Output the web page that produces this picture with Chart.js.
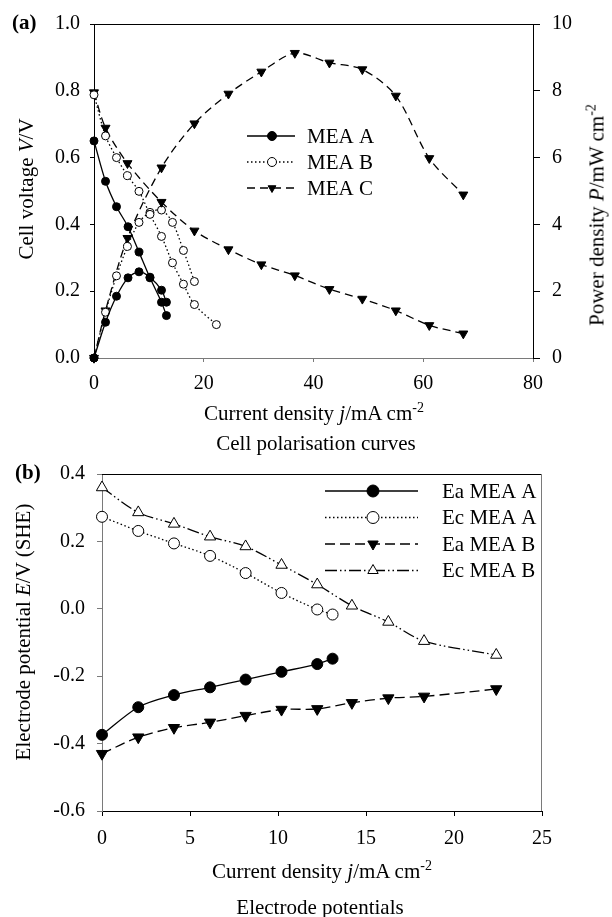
<!DOCTYPE html>
<html>
<head>
<meta charset="utf-8">
<script src="https://cdn.jsdelivr.net/npm/chart.js@4.4.0/dist/chart.umd.min.js"></script>
<style>
body { margin: 0; background: #fff; }
#page { position: relative; width: 612px; height: 917px; overflow: hidden; font-family: "Liberation Serif", "Times New Roman", serif; color: #000; }
canvas { position: absolute; left: 0; }
.lbl { position: absolute; font-size: 21px; line-height: 1; white-space: nowrap; }
.c { transform: translate(-50%, -50%); }
.rot { transform: translate(-50%, -50%) rotate(-90deg); }
sup { font-size: 14px; vertical-align: 8px; line-height: 0; }
</style>
</head>
<body>
<div id="page">
    <canvas id="chartA" width="612" height="450" style="top:0"></canvas>
    <canvas id="chartB" width="612" height="467" style="top:450px"></canvas>

    <div class="lbl" style="left:12px; top:12px; font-weight:bold;">(a)</div>
    <div class="lbl rot" style="left:26px; top:189px;">Cell voltage <i>V</i>/V</div>
    <div class="lbl rot" style="left:597px; top:215px;">Power density <i>P</i>/mW cm<sup>-2</sup></div>
    <div class="lbl c" style="left:314px; top:413px;">Current density <i>j</i>/mA cm<sup>-2</sup></div>
    <div class="lbl c" style="left:316px; top:443px;">Cell polarisation curves</div>

    <div class="lbl" style="left:15px; top:462px; font-weight:bold;">(b)</div>
    <div class="lbl rot" style="left:23px; top:632px;">Electrode potential <i>E</i>/V (SHE)</div>
    <div class="lbl c" style="left:322px; top:871px;">Current density <i>j</i>/mA cm<sup>-2</sup></div>
    <div class="lbl c" style="left:320px; top:907px;">Electrode potentials</div>
</div>

<script>
// (a) cell polarisation - current density in mA cm-2, voltage in V, power in mW cm-2
const jA = [0, 2.1, 4.1, 6.2, 8.2, 10.2, 12.3, 13.2];
const voltA = [0.65, 0.529, 0.453, 0.393, 0.317, 0.24, 0.167, 0.127];
const powerA = [0, 1.07, 1.85, 2.40, 2.58, 2.42, 2.03, 1.67];

const jB = [0, 2.1, 4.1, 6.1, 8.2, 10.2, 12.3, 14.3, 16.3, 18.3, 22.3];
const voltB = [0.788, 0.665, 0.60, 0.546, 0.499, 0.43, 0.364, 0.285, 0.221, 0.16, 0.10];
const jBPower = [0, 2.1, 4.1, 6.1, 8.2, 10.2, 12.3, 14.3, 16.3, 18.3];
const powerB = [0, 1.37, 2.46, 3.34, 4.06, 4.36, 4.43, 4.06, 3.22, 2.29];

const jC = [0, 2.1, 6.1, 12.3, 18.3, 24.5, 30.5, 36.6, 42.9, 48.9, 55.0, 61.1, 67.3];
const voltC = [0.795, 0.689, 0.583, 0.467, 0.381, 0.325, 0.28, 0.247, 0.206, 0.177, 0.142, 0.098, 0.073];
const powerC = [0, 1.42, 3.59, 5.7, 7.02, 7.91, 8.57, 9.13, 8.84, 8.64, 7.85, 5.98, 4.89];

// (b) electrode potentials in V vs SHE
const jElecA = [0, 2.06, 4.09, 6.14, 8.16, 10.2, 12.23, 13.1];
const eaMeaA = [-0.374, -0.292, -0.256, -0.233, -0.210, -0.187, -0.164, -0.148];
const ecMeaA = [0.273, 0.231, 0.194, 0.157, 0.106, 0.047, -0.002, -0.017];
const jElecB = [0, 2.06, 4.09, 6.14, 8.16, 10.2, 12.23, 14.2, 16.27, 18.3, 22.4];
const eaMeaB = [-0.430, -0.381, -0.353, -0.337, -0.317, -0.299, -0.297, -0.279, -0.265, -0.260, -0.238];
const ecMeaB = [0.36, 0.286, 0.252, 0.214, 0.185, 0.130, 0.072, 0.009, -0.039, -0.096, -0.137];

const xTicksA = [0, 20, 40, 60, 80];
const xTicksB = [0, 5, 10, 15, 20, 25];

const FONT = '"Liberation Serif", "Times New Roman", serif';
const GREY = '#7a7a7a';

function toPoints(xs, ys) {
    return ys.map((y, i) => ({ x: xs[i], y: y }));
}

// marker drawing shared by the legends
function drawMarker(ctx, style, x, y, r, filled, rotation) {
    ctx.save();
    ctx.setLineDash([]);
    ctx.lineWidth = 1;
    ctx.strokeStyle = '#000';
    ctx.fillStyle = filled ? '#000' : '#fff';
    ctx.beginPath();
    if (style === 'circle') {
        ctx.arc(x, y, r, 0, Math.PI * 2);
    } else {
        let rad = (rotation || 0) * Math.PI / 180;
        ctx.moveTo(x + Math.sin(rad) * r, y - Math.cos(rad) * r);
        rad += Math.PI * 2 / 3;
        ctx.lineTo(x + Math.sin(rad) * r, y - Math.cos(rad) * r);
        rad += Math.PI * 2 / 3;
        ctx.lineTo(x + Math.sin(rad) * r, y - Math.cos(rad) * r);
        ctx.closePath();
    }
    ctx.fill();
    ctx.stroke();
    ctx.restore();
}

const framePlugin = {
    id: 'frame',
    afterDraw(chart, args, opts) {
        const a = chart.chartArea;
        const ctx = chart.ctx;
        ctx.save();
        ctx.lineWidth = 1;
        ctx.strokeStyle = '#000';
        ctx.beginPath();
        ctx.moveTo(a.left, a.top + 0.5);
        ctx.lineTo(a.right, a.top + 0.5);
        ctx.stroke();
        if (opts.right) {
            ctx.strokeStyle = opts.right;
            ctx.beginPath();
            ctx.moveTo(a.right - 0.5, a.top);
            ctx.lineTo(a.right - 0.5, a.bottom);
            ctx.stroke();
        }
        ctx.restore();
    }
};

const lineLegendPlugin = {
    id: 'lineLegend',
    afterDraw(chart, args, opts) {
        if (!opts.rows) return;
        const ctx = chart.ctx;
        opts.rows.forEach((row, i) => {
            const ds = chart.data.datasets[row.dataset];
            const y = opts.top + i * opts.gap;
            ctx.save();
            ctx.strokeStyle = '#000';
            ctx.lineWidth = ds.borderWidth;
            ctx.setLineDash(ds.borderDash || []);
            ctx.beginPath();
            ctx.moveTo(opts.x1, y);
            ctx.lineTo(opts.x2, y);
            ctx.stroke();
            ctx.restore();
            drawMarker(ctx, ds.pointStyle, opts.mx, y, opts.r,
                ds.pointBackgroundColor === '#000', ds.pointRotation);
            ctx.save();
            ctx.fillStyle = '#000';
            ctx.font = opts.font;
            ctx.textBaseline = 'middle';
            ctx.fillText(row.label, opts.tx, y + 1);
            ctx.restore();
        });
    }
};

function series(points, axis, style, filled, dash, radius, rotation) {
    return {
        data: points,
        yAxisID: axis,
        showLine: true,
        clip: false,
        borderColor: '#000',
        borderWidth: 1.3,
        borderDash: dash,
        tension: 0.3,
        pointStyle: style,
        pointRadius: radius,
        pointRotation: rotation || 0,
        pointBorderWidth: 1,
        pointBorderColor: '#000',
        pointBackgroundColor: filled ? '#000' : '#fff'
    };
}

const DOT = [1.5, 2.5];
const DASH_A = [8, 5];
const DASH_B = [10, 5];
const DASH_DOT_DOT = [12, 3, 1.5, 3, 1.5, 3];

function tickFont(size) {
    return { family: FONT, size: size };
}

function initializeCharts() {
    new Chart(document.getElementById('chartA'), {
        type: 'scatter',
        data: {
            datasets: [
                series(toPoints(jA, voltA), 'y', 'circle', true, [], 4),
                series(toPoints(jB, voltB), 'y', 'circle', false, DOT, 4),
                series(toPoints(jC, voltC), 'y', 'triangle', true, DASH_A, 5.2, 180),
                series(toPoints(jA, powerA), 'y2', 'circle', true, [], 4),
                series(toPoints(jBPower, powerB), 'y2', 'circle', false, DOT, 4),
                series(toPoints(jC, powerC), 'y2', 'triangle', true, DASH_A, 5.2, 180)
            ]
        },
        options: {
            responsive: false,
            animation: false,
            layout: { padding: { top: 20, left: 0, right: 0, bottom: 0 } },
            plugins: {
                legend: { display: false },
                tooltip: { enabled: false },
                frame: {},
                lineLegend: {
                    rows: [
                        { dataset: 0, label: 'MEA A' },
                        { dataset: 1, label: 'MEA B' },
                        { dataset: 2, label: 'MEA C' }
                    ],
                    top: 136, gap: 26, x1: 247, x2: 295, mx: 272, tx: 307, r: 4.5,
                    font: '21px ' + FONT
                }
            },
            scales: {
                x: {
                    type: 'linear', min: 0, max: 80,
                    afterBuildTicks: s => { s.ticks = xTicksA.map(v => ({ value: v })); },
                    ticks: { font: tickFont(20), color: '#000', padding: 10, maxRotation: 0 },
                    grid: { drawOnChartArea: false, tickLength: 4, color: GREY },
                    border: { color: GREY },
                    afterFit: s => { s.height = 92; }
                },
                y: {
                    position: 'left', min: 0, max: 1,
                    ticks: { stepSize: 0.2, font: tickFont(20), color: '#000', padding: 10,
                        callback: v => v.toFixed(1) },
                    grid: { drawOnChartArea: false, tickLength: 4, color: '#000' },
                    border: { color: '#000' },
                    afterFit: s => { s.width = 94; }
                },
                y2: {
                    position: 'right', min: 0, max: 10,
                    ticks: { stepSize: 2, font: tickFont(20), color: '#000', padding: 12 },
                    grid: { drawOnChartArea: false, tickLength: 7, color: '#000' },
                    border: { color: '#000' },
                    afterFit: s => { s.width = 79; }
                }
            }
        },
        plugins: [framePlugin, lineLegendPlugin]
    });

    new Chart(document.getElementById('chartB'), {
        type: 'scatter',
        data: {
            datasets: [
                series(toPoints(jElecA, eaMeaA), 'y', 'circle', true, [], 5.5),
                series(toPoints(jElecA, ecMeaA), 'y', 'circle', false, DOT, 5.5),
                series(toPoints(jElecB, eaMeaB), 'y', 'triangle', true, DASH_B, 6.5, 180),
                series(toPoints(jElecB, ecMeaB), 'y', 'triangle', false, DASH_DOT_DOT, 6.5)
            ]
        },
        options: {
            responsive: false,
            animation: false,
            layout: { padding: { top: 22, left: 0, right: 70, bottom: 0 } },
            plugins: {
                legend: { display: false },
                tooltip: { enabled: false },
                frame: { right: GREY },
                lineLegend: {
                    rows: [
                        { dataset: 0, label: 'Ea MEA A' },
                        { dataset: 1, label: 'Ec MEA A' },
                        { dataset: 2, label: 'Ea MEA B' },
                        { dataset: 3, label: 'Ec MEA B' }
                    ],
                    top: 41, gap: 26.5, x1: 325, x2: 418, mx: 373, tx: 442, r: 6,
                    font: '21px ' + FONT
                }
            },
            scales: {
                x: {
                    type: 'linear', min: 0, max: 25,
                    afterBuildTicks: s => { s.ticks = xTicksB.map(v => ({ value: v })); },
                    ticks: { font: tickFont(20), color: '#000', padding: 11, maxRotation: 0 },
                    grid: { drawOnChartArea: false, tickLength: 5, color: '#000' },
                    border: { color: '#000' },
                    afterFit: s => { s.height = 106; }
                },
                y: {
                    position: 'left', min: -0.6, max: 0.4,
                    ticks: { stepSize: 0.2, font: tickFont(20), color: '#000', padding: 12,
                        callback: v => v.toFixed(1) },
                    grid: { drawOnChartArea: false, tickLength: 5, color: GREY },
                    border: { color: GREY },
                    afterFit: s => { s.width = 102; }
                }
            }
        },
        plugins: [framePlugin, lineLegendPlugin]
    });
}

initializeCharts();
</script>
</body>
</html>
